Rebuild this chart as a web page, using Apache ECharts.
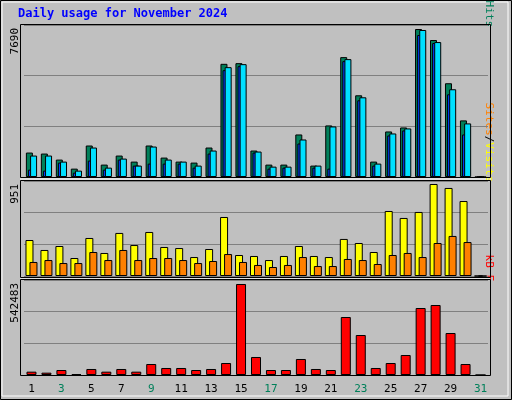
<!DOCTYPE html>
<html><head><meta charset="utf-8">
<script src="https://cdn.jsdelivr.net/npm/echarts@6/dist/echarts.min.js"></script>
<style>html,body{margin:0;padding:0;background:#c0c0c0}#chart{width:512px;height:400px}</style>
</head><body><div id="chart"></div>
<script>
var days = ['1','2','3','4','5','6','7','8','9','10','11','12','13','14','15','16','17','18','19','20','21','22','23','24','25','26','27','28','29','30','31'];
var weekend = ['2','3','9','10','16','17','23','24','30','31'];
var hits = [1270,1218,905,435,1636,644,1114,800,1636,1009,800,748,1531,5881,5916,1375,644,644,2210,592,2680,6229,4246,800,2366,2575,7690,7117,4872,2941,0];
var files = [1114,1114,800,331,1531,487,957,592,1583,905,800,592,1375,5707,5864,1322,539,539,1949,592,2627,6125,4141,696,2262,2523,7639,7012,4559,2784,0];
var pages = [383,331,748,226,853,383,905,592,696,696,696,487,1218,5551,5759,1270,435,487,1740,487,435,6020,3985,592,2158,2419,7378,6960,4298,2210,0];
var visits = [372,269,310,186,393,238,445,320,455,300,289,196,279,610,217,207,165,207,310,207,196,383,341,248,672,600,662,951,910,775,0];
var sites = [145,165,134,134,248,165,269,165,186,186,165,134,155,227,145,114,93,114,196,103,103,176,165,124,217,238,196,341,414,351,0];
var kbytes = [19870,13910,29800,5960,35770,19870,35770,19870,65570,41730,41730,29800,35770,71530,542483,107300,29800,29800,95380,35770,29800,345740,238440,41730,71530,119220,399390,417270,250360,65570,0];
var maxLabels = ['7690','951','542483'];

var panels = [[25,152],[181,95],[280,95]];
var tops = [7898,982,566300];
var grids = [], xAxes = [], yAxes = [];
for (var i = 0; i < 3; i++) {
    grids.push({left: 24, right: 24, top: panels[i][0], height: panels[i][1]});
    xAxes.push({
        type: 'category', gridIndex: i, data: days,
        axisLine: {show: false}, axisTick: {show: false},
        axisLabel: {
            show: i === 2, margin: 9, fontFamily: 'DejaVu Sans Mono', fontSize: 11,
            color: function (v) { return weekend.indexOf(v) >= 0 ? '#00805a' : '#000'; }
        }
    });
    yAxes.push({
        type: 'value', gridIndex: i, min: 0, max: tops[i], interval: tops[i] / 3,
        axisLabel: {show: false}, axisLine: {show: false}, axisTick: {show: false},
        splitLine: {lineStyle: {color: '#808080', width: 1}}
    });
}
var edge = {borderColor: '#000', borderWidth: 1};
function bar(name, data, color, idx, w, gap) {
    return {name: name, type: 'bar', data: data, xAxisIndex: idx, yAxisIndex: idx, barWidth: w, barGap: gap,
        itemStyle: Object.assign({color: color}, edge), silent: true, animation: false};
}
var graphic = [
    {type: 'rect', shape: {x: 0.5, y: 0.5, width: 511, height: 399}, style: {fill: null, stroke: '#000'}},
    {type: 'rect', shape: {x: 2, y: 2, width: 506, height: 394}, style: {fill: null, stroke: '#fff', lineWidth: 1}},
    {type: 'text', left: 18, top: 8, style: {text: 'Daily usage for November 2024', fill: '#0000ff', font: 'bold 12px "DejaVu Sans Mono"'}}
];
var frames = [[24.5,153],[180.5,97],[279.5,96]];
for (var j = 0; j < 3; j++) {
    graphic.push({type: 'rect', shape: {x: 20.5, y: frames[j][0], width: 470, height: frames[j][1]}, style: {fill: null, stroke: '#000'}, z: 10});
    graphic.push({type: 'text', x: 10, y: panels[j][0] + 3, rotation: Math.PI / 2, style: {text: maxLabels[j], fill: '#000', font: '11px "DejaVu Sans Mono"', align: 'right', verticalAlign: 'top'}});
}
graphic.push({type: 'line', shape: {x1: 20, y1: 179, x2: 491, y2: 179}, style: {stroke: '#fff'}});
graphic.push({type: 'line', shape: {x1: 20, y1: 278, x2: 491, y2: 278}, style: {stroke: '#fff'}});
function side(y, parts) {
    graphic.push({type: 'text', x: 494, y: y, rotation: -Math.PI / 2, style: {
        rich: {a: {fill: parts[0][1]}, b: {fill: '#000'}, c: {fill: parts[1] ? parts[1][1] : '#000'}, d: {fill: parts[2] ? parts[2][1] : '#000'}},
        text: parts.map(function (p, k) { return '{' + 'acd'[k] + '|' + p[0] + '}'; }).join('{b|/}'),
        font: '11px "DejaVu Sans Mono"', align: 'right', verticalAlign: 'top'}});
}
side(27, [['Pages', '#00e0ff'], ['Files', '#0080ff'], ['Hits', '#00805a']]);
side(182, [['Sites', '#ff8000'], ['Visits', '#ffff00']]);
side(281, [['kB F', '#ff0000']]);

var option = {
    backgroundColor: '#c0c0c0',
    animation: false,
    grid: grids, xAxis: xAxes, yAxis: yAxes,
    series: [
        bar('Hits', hits, '#00805a', 0, 7, '-70%'),
        bar('Pages', pages, '#0040ff', 0, 7, '-70%'),
        bar('Files', files, '#00e0ff', 0, 7, '-70%'),
        bar('Visits', visits, '#ffff00', 1, 8, '-50%'),
        bar('Sites', sites, '#ff8000', 1, 8, '-50%'),
        bar('kB F', kbytes, '#ff0000', 2, 10, '0%')
    ],
    graphic: graphic
};
echarts.init(document.getElementById('chart')).setOption(option);
</script>
</body></html>
